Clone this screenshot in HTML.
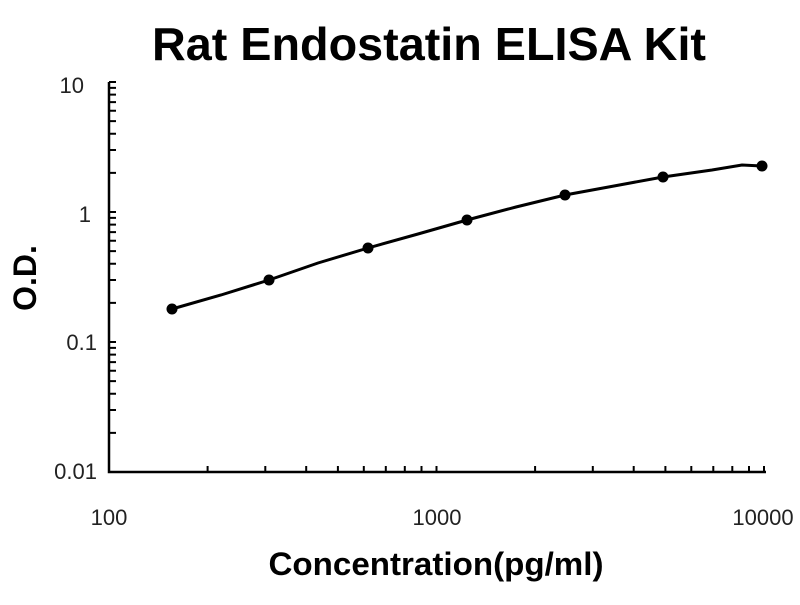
<!DOCTYPE html>
<html><head><style>
body{margin:0;background:#fff;width:800px;height:600px;overflow:hidden}
text{font-family:"Liberation Sans",sans-serif}
</style></head><body>
<svg id="s" width="800" height="600" xmlns="http://www.w3.org/2000/svg">
<text x="429" y="60" text-anchor="middle" font-size="46" font-weight="bold" textLength="554" lengthAdjust="spacingAndGlyphs">Rat Endostatin ELISA Kit</text>
<text x="436" y="575" text-anchor="middle" font-size="32" font-weight="bold" textLength="335" lengthAdjust="spacingAndGlyphs">Concentration(pg/ml)</text>
<text transform="translate(36,278) rotate(-90)" text-anchor="middle" font-size="32" font-weight="bold">O.D.</text>
<g font-size="22" fill="#222">
<text x="84" y="93" text-anchor="end">10</text>
<text x="91" y="222" text-anchor="end">1</text>
<text x="97" y="350" text-anchor="end">0.1</text>
<text x="97" y="479" text-anchor="end">0.01</text>
<text x="109" y="525" text-anchor="middle">100</text>
<text x="437" y="525" text-anchor="middle">1000</text>
<text x="763" y="525" text-anchor="middle">10000</text>
</g>
<g id="ax" stroke="#000" stroke-width="2.5" fill="none">
<path d="M109,82 V472 H766"/>
</g>
<path d="M172,309 L221,295 L269,280 L318,263 L368,248 L418,234 L467,220 L516,207 L565,195 L614,186 L663,177 L712,170 L742,165 L762,166" stroke="#000" stroke-width="3" fill="none"/>
<g fill="#000">
<circle cx="172" cy="309" r="5.5"/><circle cx="269" cy="280" r="5.5"/><circle cx="368" cy="248" r="5.5"/><circle cx="467" cy="220" r="5.5"/><circle cx="565" cy="195" r="5.5"/><circle cx="663" cy="177" r="5.5"/><circle cx="762" cy="166" r="5.5"/>
</g>
</svg>
<script>
var g=document.getElementById('ax'),d='';
for(var k=0;k<3;k++){var y0=472-130*k;for(var m=2;m<=10;m++){var y=y0-130*Math.log10(m);d+='M109,'+y.toFixed(1)+'h7';}}
for(var k=0;k<2;k++){var x0=109+327.5*k;for(var m=2;m<=10;m++){var x=x0+327.5*Math.log10(m);d+='M'+x.toFixed(1)+',472v-6';}}
var p=document.createElementNS('http://www.w3.org/2000/svg','path');p.setAttribute('d',d);p.setAttribute('stroke-width','2');g.appendChild(p);
</script>
</body></html>
